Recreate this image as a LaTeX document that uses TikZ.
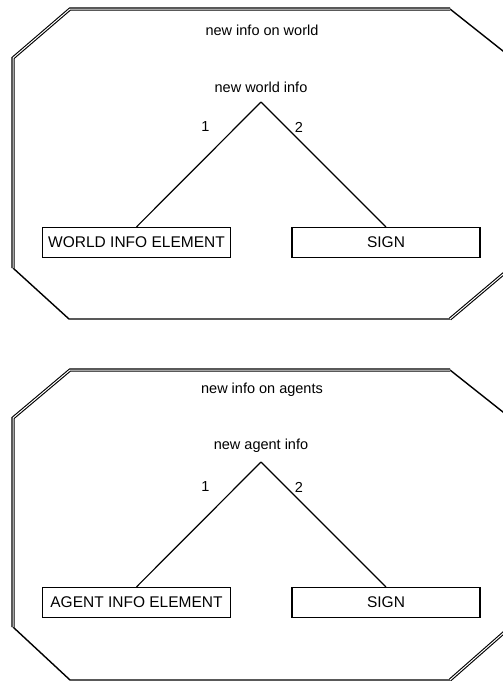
\documentclass[tikz,border=0pt]{standalone}
\usepackage{fontspec}
\setmainfont{Liberation Sans}
\begin{document}
\begin{tikzpicture}[x=1pt,y=-1pt,
  txt/.style={font=\fontsize{14.5}{16}\selectfont, inner sep=0pt},
  elem/.style={draw, line width=1.2pt, minimum width=188pt, minimum height=30pt, inner sep=0pt, font=\fontsize{15.5}{17}\selectfont},
  edge/.style={line width=1.2pt},
  single/.style={line width=1.4pt, line join=miter},
  dbl/.style={double, double distance=1pt, line width=1.1pt, line join=miter}
]
\useasboundingbox (0,0) rectangle (503,681);
\clip (0,0) rectangle (503,681);
% ---------- top panel ----------
\draw[single] (13,268) -- (69,319) -- (450,319);
\draw[single] (450,9) -- (508,55) -- (508,270);
\draw[dbl] (508,270) -- (450,319);
\draw[dbl] (13,268) -- (13,58) -- (70,9) -- (450,9);
\node[txt] (t1) at (262,30) {new info on world};
\coordinate (a1) at (261,102);
\node[txt, anchor=south] (n1) at ([yshift=9pt]a1) {new world info};
\node[elem] (w1) at (136.5,242.5) {WORLD INFO ELEMENT};
\node[elem] (s1) at (386,242.5) {SIGN};
\draw[edge] (a1) -- (w1.north);
\draw[edge] (a1) -- (s1.north);
\node[txt] (l1) at (205.5,127) {1};
\node[txt] (r1) at (299,127) {2};
% ---------- bottom panel ----------
\draw[single] (13,627) -- (70,680) -- (450,680);
\draw[single] (450,370) -- (508,416) -- (508,629);
\draw[dbl] (508,629) -- (450,680);
\draw[dbl] (13,627) -- (13,418) -- (70,370) -- (450,370);
\node[txt] (t2) at (262,390) {new info on agents};
\coordinate (a2) at (261,462);
\node[txt, anchor=south] (n2) at ([yshift=9pt]a2) {new agent info};
\node[elem] (w2) at (136.5,602.5) {AGENT INFO ELEMENT};
\node[elem] (s2) at (386,602.5) {SIGN};
\draw[edge] (a2) -- (w2.north);
\draw[edge] (a2) -- (s2.north);
\node[txt] (l2) at (205.5,487) {1};
\node[txt] (r2) at (299,487) {2};
\end{tikzpicture}
\end{document}
